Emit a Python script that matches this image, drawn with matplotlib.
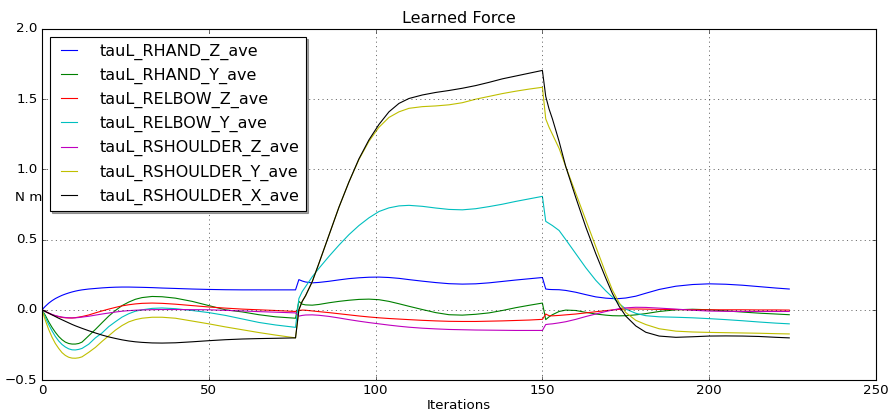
import numpy as np
import matplotlib
matplotlib.use("Agg")
import matplotlib.pyplot as plt

# ---------------------------
# Data
# ---------------------------
iters = [0, 1, 2, 3, 4, 5, 6, 7, 8, 9, 10, 11, 12, 14, 16, 18, 20, 22, 24, 26, 28, 30,
         33, 36, 40, 45, 50, 55, 60, 65, 70, 76,
         77, 78, 79, 81, 83, 86, 89, 92, 95, 98, 101, 104, 107, 110, 114, 118, 122, 126, 130, 134,
         138, 142, 146, 150,
         151, 152, 153, 155, 157, 160, 163, 166, 169, 171, 173, 175, 178, 181, 185, 190, 195, 200, 205, 210,
         215, 220, 224]

rhand_z = [0, 0.025, 0.047, 0.065, 0.08, 0.092, 0.103, 0.112, 0.12, 0.127, 0.133, 0.138, 0.142, 0.148, 0.152, 0.156, 0.159, 0.161, 0.162, 0.162, 0.161, 0.16,
           0.158, 0.155, 0.152, 0.148, 0.145, 0.143, 0.142, 0.142, 0.142, 0.142,
           0.215, 0.205, 0.198, 0.192, 0.195, 0.203, 0.213, 0.222, 0.228, 0.232, 0.233, 0.23, 0.224, 0.215, 0.204, 0.194, 0.186, 0.183, 0.185, 0.192,
           0.202, 0.212, 0.221, 0.23,
           0.148, 0.145, 0.144, 0.143, 0.138, 0.125, 0.108, 0.092, 0.083, 0.08, 0.08, 0.084, 0.097, 0.118, 0.145, 0.168, 0.18, 0.185, 0.182, 0.175,
           0.165, 0.155, 0.148]

rhand_y = [0, -0.04, -0.085, -0.125, -0.16, -0.19, -0.213, -0.23, -0.24, -0.244, -0.244, -0.24, -0.23, -0.185, -0.14, -0.092, -0.045, -0.005, 0.03, 0.055, 0.075, 0.087,
           0.095, 0.093, 0.083, 0.06, 0.03, 0.0, -0.015, -0.035, -0.05, -0.06,
           0.06, 0.04, 0.035, 0.033, 0.038, 0.05, 0.06, 0.068, 0.074, 0.076, 0.072, 0.06, 0.043, 0.025, 0.002, -0.02, -0.035, -0.038, -0.032, -0.022,
           -0.005, 0.015, 0.032, 0.048,
           -0.07, -0.05, -0.035, -0.012, -0.002, -0.005, -0.018, -0.03, -0.038, -0.042, -0.043, -0.042, -0.036, -0.027, -0.012, 0.0, 0.004, 0.0, -0.008, -0.016,
           -0.024, -0.03, -0.035]

relbow_z = [0, -0.012, -0.024, -0.035, -0.043, -0.049, -0.054, -0.057, -0.058, -0.058, -0.056, -0.052, -0.048, -0.037, -0.022, -0.008, 0.005, 0.017, 0.028, 0.036, 0.042, 0.046,
            0.048, 0.046, 0.04, 0.03, 0.02, 0.012, 0.005, 0.0, -0.005, -0.012,
            -0.005, -0.002, -0.003, -0.008, -0.013, -0.02, -0.028, -0.036, -0.044, -0.051, -0.057, -0.062, -0.066, -0.07, -0.075, -0.079, -0.082, -0.083, -0.083, -0.081,
            -0.079, -0.076, -0.073, -0.068,
            -0.03, -0.042, -0.043, -0.04, -0.036, -0.03, -0.022, -0.014, -0.006, -0.001, 0.003, 0.005, 0.006, 0.005, 0.003, 0.002, 0.0, 0.0, 0.0, 0.0,
            -0.001, -0.001, -0.002]

relbow_y = [0, -0.055, -0.105, -0.15, -0.19, -0.222, -0.247, -0.265, -0.278, -0.285, -0.286, -0.282, -0.275, -0.245, -0.2, -0.165, -0.12, -0.085, -0.052, -0.028, -0.01, 0.0,
            0.01, 0.013, 0.008, -0.005, -0.02, -0.04, -0.065, -0.09, -0.108, -0.125,
            0.08, 0.13, 0.165, 0.235, 0.295, 0.38, 0.46, 0.535, 0.6, 0.655, 0.7, 0.726, 0.74, 0.744, 0.737, 0.725, 0.715, 0.712, 0.72, 0.735,
            0.752, 0.772, 0.79, 0.808,
            0.63, 0.615, 0.6, 0.565, 0.5, 0.4, 0.3, 0.21, 0.135, 0.09, 0.045, 0.005, -0.025, -0.042, -0.05, -0.053, -0.057, -0.063, -0.07, -0.078,
            -0.087, -0.095, -0.1]

rshoulder_z = [0, -0.012, -0.023, -0.033, -0.041, -0.047, -0.052, -0.055, -0.057, -0.058, -0.057, -0.055, -0.052, -0.046, -0.038, -0.03, -0.023, -0.016, -0.01, -0.006, -0.003, -0.001,
               0.001, 0.002, 0.002, 0.001, 0.0, -0.004, -0.008, -0.013, -0.017, -0.022,
               -0.045, -0.04, -0.037, -0.036, -0.039, -0.047, -0.058, -0.07, -0.081, -0.091, -0.1, -0.109, -0.117, -0.124, -0.131, -0.136, -0.14, -0.142, -0.144, -0.145,
               -0.146, -0.147, -0.147, -0.147,
               -0.105, -0.102, -0.1, -0.093, -0.085, -0.068, -0.048, -0.03, -0.012, -0.002, 0.008, 0.014, 0.018, 0.017, 0.012, 0.005, -0.003, -0.009, -0.011, -0.012,
               -0.012, -0.012, -0.012]

rshoulder_y = [0, -0.075, -0.14, -0.195, -0.24, -0.275, -0.305, -0.325, -0.338, -0.344, -0.345, -0.342, -0.335, -0.303, -0.268, -0.225, -0.185, -0.145, -0.112, -0.086, -0.07, -0.06,
               -0.053, -0.053, -0.06, -0.08, -0.1, -0.122, -0.142, -0.162, -0.18, -0.2,
               0.0, 0.06, 0.1, 0.2, 0.33, 0.53, 0.73, 0.91, 1.07, 1.2, 1.3, 1.37, 1.41, 1.435, 1.447, 1.452, 1.46, 1.475, 1.5, 1.52,
               1.54, 1.557, 1.572, 1.585,
               1.36, 1.3, 1.25, 1.15, 1.02, 0.83, 0.64, 0.45, 0.26, 0.14, 0.05, -0.02, -0.075, -0.105, -0.135, -0.152, -0.158, -0.161, -0.163, -0.165,
               -0.167, -0.17, -0.172]

rshoulder_x = [0, -0.012, -0.024, -0.036, -0.048, -0.06, -0.071, -0.082, -0.093, -0.104, -0.114, -0.123, -0.132, -0.149, -0.165, -0.18, -0.193, -0.204, -0.214, -0.222, -0.228, -0.232,
               -0.236, -0.237, -0.235, -0.228, -0.22, -0.213, -0.208, -0.205, -0.203, -0.2,
               0.0, 0.06, 0.1, 0.2, 0.33, 0.53, 0.73, 0.91, 1.075, 1.21, 1.32, 1.41, 1.47, 1.505, 1.53, 1.548, 1.562, 1.578, 1.597, 1.62,
               1.645, 1.665, 1.685, 1.705,
               1.52, 1.43, 1.36, 1.2, 1.02, 0.8, 0.59, 0.4, 0.225, 0.115, 0.025, -0.045, -0.115, -0.16, -0.187, -0.196, -0.192, -0.187, -0.186, -0.187,
               -0.19, -0.196, -0.2]

series = [
    ('tauL_RHAND_Z_ave', rhand_z, 'b'),
    ('tauL_RHAND_Y_ave', rhand_y, 'g'),
    ('tauL_RELBOW_Z_ave', relbow_z, 'r'),
    ('tauL_RELBOW_Y_ave', relbow_y, 'c'),
    ('tauL_RSHOULDER_Z_ave', rshoulder_z, 'm'),
    ('tauL_RSHOULDER_Y_ave', rshoulder_y, 'y'),
    ('tauL_RSHOULDER_X_ave', rshoulder_x, 'k'),
]

# ---------------------------
# Plot
# ---------------------------
plt.style.use('classic')
plt.rcParams['figure.facecolor'] = 'white'
plt.rcParams['savefig.facecolor'] = 'white'

fig = plt.figure(figsize=(890 / 80, 414 / 80), dpi=80)
ax = fig.add_axes([42 / 890, 34 / 414, 834 / 890, 351 / 414])

for label, vals, col in series:
    ax.plot(iters, vals, color=col, linewidth=1.0, label=label)

ax.set_xlim(0, 250)
ax.set_ylim(-0.5, 2.0)
ax.set_title('Learned Force')
ax.set_xlabel('Iterations', labelpad=1)
ax.set_ylabel('N m', rotation=0, ha='center', va='center')
ax.yaxis.set_label_coords(-0.016, 0.52)
ax.grid(True)
ax.legend(loc='upper left', shadow=True, handlelength=1.6, handletextpad=1.1)

fig.savefig('out.png', dpi=80)
plt.close(fig)
